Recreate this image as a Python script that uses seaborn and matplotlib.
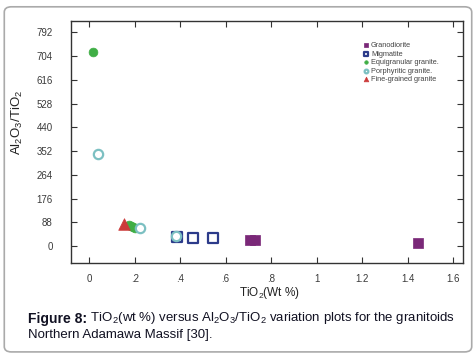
import matplotlib
matplotlib.use("Agg")
import matplotlib.pyplot as plt
from matplotlib.patches import FancyBboxPatch
import seaborn as sns
import pandas as pd

# data
groups = ['Granodiorite', 'Migmatite', 'Equigranular granite.', 'Porphyritic granite.', 'Fine-grained granite']
grano_x = [0.705, 0.728, 1.445]
grano_y = [22, 22, 11]
migma_x = [0.388, 0.458, 0.545]
migma_y = [33, 31, 31]
equi_x = [0.018, 0.175, 0.185, 0.195, 0.20]
equi_y = [718, 78, 74, 70, 68]
porph_x = [0.04, 0.225, 0.382]
porph_y = [341, 67, 36]
fine_x = [0.155]
fine_y = [83]

xticks = [0, 0.2, 0.4, 0.6, 0.8, 1, 1.2, 1.4, 1.6]
xticklabels = ['0', '.2', '.4', '.6', '.8', '1', '1.2', '1.4', '1.6']
yticks = [0, 88, 176, 264, 352, 440, 528, 616, 704, 792]

colors = {'Granodiorite': '#7a2878', 'Migmatite': '#2c3b8a', 'Equigranular granite.': '#3fae45',
          'Porphyritic granite.': '#7cc0c2', 'Fine-grained granite': '#cc3a3a'}

df = pd.concat([
    pd.DataFrame({'x': grano_x, 'y': grano_y, 'g': groups[0]}),
    pd.DataFrame({'x': migma_x, 'y': migma_y, 'g': groups[1]}),
    pd.DataFrame({'x': equi_x, 'y': equi_y, 'g': groups[2]}),
    pd.DataFrame({'x': porph_x, 'y': porph_y, 'g': groups[3]}),
    pd.DataFrame({'x': fine_x, 'y': fine_y, 'g': groups[4]}),
])

sns.set_style('ticks')
plt.rcParams['font.family'] = ['Liberation Sans', 'DejaVu Sans']
plt.rcParams['mathtext.fontset'] = 'custom'
plt.rcParams['mathtext.rm'] = 'Liberation Sans'

fig = plt.figure(figsize=(4.76, 3.58), dpi=100)
ax = fig.add_axes([0.149, 0.265, 0.824, 0.676])

# marker, size, filled
style = {
    'Granodiorite': ('s', 60, True),
    'Migmatite': ('s', 45, False),
    'Equigranular granite.': ('o', 40, True),
    'Porphyritic granite.': ('o', 45, False),
    'Fine-grained granite': ('^', 70, True),
}
for g in groups:
    m, s, filled = style[g]
    sub = df[df['g'] == g]
    if filled:
        sns.scatterplot(data=sub, x='x', y='y', ax=ax, marker=m, s=s, color=colors[g],
                        edgecolor=colors[g], linewidth=0.5, label=g, zorder=3)
    else:
        sns.scatterplot(data=sub, x='x', y='y', ax=ax, marker=m, s=s, facecolor='white',
                        edgecolor=colors[g], linewidth=1.6, label=g, zorder=3)

ax.set_xlim(-0.08, 1.644)
ax.set_ylim(-63, 833)
ax.set_xticks(xticks)
ax.set_xticklabels(xticklabels)
ax.set_yticks(yticks)
ax.tick_params(direction='in', length=4, width=0.8, top=True, right=True,
               labelsize=7, labelcolor='#3a3a3a', color='#333333')
ax.tick_params(axis='y', pad=13)
ax.tick_params(axis='x', pad=8)
for sp in ax.spines.values():
    sp.set_visible(True)
    sp.set_color('#333333')
    sp.set_linewidth(1.0)

ax.set_xlabel('TiO$_2$(Wt %)', fontsize=8.5, color='#222222')
ax.set_ylabel('Al$_2$O$_3$/TiO$_2$', fontsize=9.5, color='#222222')
ax.xaxis.set_label_coords(0.507, -0.09)
ax.yaxis.set_label_coords(-0.118, 0.58)

leg = ax.legend(loc='upper left', bbox_to_anchor=(0.735, 0.93), frameon=False, fontsize=5.3,
                markerscale=0.4, handletextpad=0.3, labelspacing=0.2, handlelength=0.8,
                borderpad=0)
for t in leg.get_texts():
    t.set_color('#444444')

# caption
t1 = fig.text(0.059, 0.099, 'Figure 8:', fontsize=10, fontweight='bold', color='#111122')
ax.annotate(' TiO$_2$(wt %) versus Al$_2$O$_3$/TiO$_2$ variation plots for the granitoids',
            xy=(1, 0), xycoords=t1, fontsize=9.5, color='#111122', va='bottom', ha='left',
            annotation_clip=False)
fig.text(0.059, 0.055, 'Northern Adamawa Massif [30].', fontsize=9.5, color='#111122')

# rounded border
border = FancyBboxPatch((0.009, 0.017), 0.982, 0.964, boxstyle='round,pad=0,rounding_size=0.015',
                        transform=fig.transFigure, facecolor='none', edgecolor='#aaaaaa',
                        linewidth=1.2)
fig.patches.append(border)

fig.savefig('out.png', dpi=100)
